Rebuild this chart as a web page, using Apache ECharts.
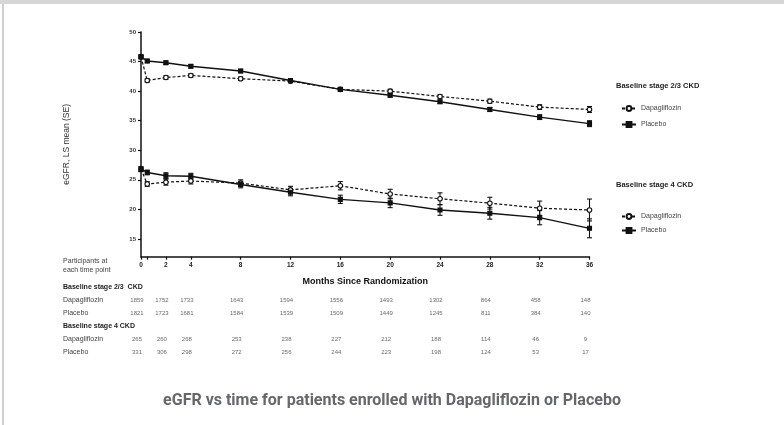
<!DOCTYPE html>
<html><head><meta charset="utf-8">
<script src="https://cdn.jsdelivr.net/npm/echarts@6/dist/echarts.min.js"></script>
<style>html,body{margin:0;padding:0;background:#fff}#c{width:784px;height:425px}</style>
</head><body><div id="c"></div>
<script>
// ---- data ----
const months = [0, 0.5, 2, 4, 8, 12, 16, 20, 24, 28, 32, 36];
const tickMonths = [0, 2, 4, 8, 12, 16, 20, 24, 28, 32, 36];
const yTicks = [15, 20, 25, 30, 35, 40, 45, 50];

const dapa23Mean = [45.8, 41.8, 42.3, 42.65, 42.1, 41.7, 40.3, 40.0, 39.1, 38.3, 37.3, 36.9];
const dapa23SE   = [0.3, 0.3, 0.3, 0.3, 0.3, 0.3, 0.3, 0.3, 0.3, 0.35, 0.4, 0.5];
const plac23Mean = [45.8, 45.1, 44.8, 44.2, 43.4, 41.8, 40.3, 39.3, 38.2, 36.9, 35.6, 34.5];
const plac23SE   = [0.3, 0.3, 0.3, 0.3, 0.3, 0.3, 0.3, 0.3, 0.3, 0.35, 0.4, 0.5];
const dapa4Mean  = [26.8, 24.3, 24.6, 24.8, 24.45, 23.3, 24.0, 22.6, 21.8, 21.05, 20.2, 19.9];
const dapa4SE    = [0.4, 0.4, 0.5, 0.5, 0.55, 0.6, 0.7, 0.8, 1.0, 1.0, 1.2, 1.85];
const plac4Mean  = [26.8, 26.25, 25.7, 25.6, 24.2, 22.9, 21.7, 21.1, 19.9, 19.35, 18.6, 16.8];
const plac4SE    = [0.4, 0.4, 0.5, 0.5, 0.55, 0.6, 0.7, 0.8, 0.9, 1.0, 1.2, 1.6];

const tableRows = ['Baseline stage 2/3  CKD', 'Dapagliflozin', 'Placebo', 'Baseline stage 4 CKD', 'Dapagliflozin', 'Placebo'];
const nDapa23 = [1859, 1752, 1733, 1643, 1594, 1556, 1493, 1302, 864, 458, 148];
const nPlac23 = [1821, 1723, 1681, 1584, 1539, 1509, 1449, 1245, 811, 384, 140];
const nDapa4  = [265, 260, 268, 253, 238, 227, 212, 188, 114, 46, 9];
const nPlac4  = [331, 306, 298, 272, 256, 244, 223, 198, 124, 53, 17];

// ---- build ----
const FF = 'Liberation Sans, Arial, sans-serif';
function pts(m){ return months.map((x,i)=>[x,m[i]]); }
function errs(m,s){ return months.map((x,i)=>[x,m[i]-s[i],m[i]+s[i]]); }
function errSeries(m,s){
  return {type:'custom', xAxisIndex:0, yAxisIndex:0, silent:true, z:1,
    data: errs(m,s),
    renderItem:function(params,api){
      const lo=api.coord([api.value(0),api.value(1)]);
      const hi=api.coord([api.value(0),api.value(2)]);
      const w=2.5, st={stroke:'#111',lineWidth:1.1};
      return {type:'group',children:[
        {type:'line',shape:{x1:lo[0],y1:lo[1],x2:hi[0],y2:hi[1]},style:st},
        {type:'line',shape:{x1:lo[0]-w,y1:lo[1],x2:lo[0]+w,y2:lo[1]},style:st},
        {type:'line',shape:{x1:hi[0]-w,y1:hi[1],x2:hi[0]+w,y2:hi[1]},style:st}
      ]};
    }};
}
function lineS(name,m,dashed){
  return {name:name, type:'line', xAxisIndex:0, yAxisIndex:0, data:pts(m), z:3,
    symbol: dashed?'circle':'rect', symbolSize: dashed?4.5:4,
    lineStyle:{color:'#111', width: dashed?1.2:1.4, type: dashed?[3,2]:'solid'},
    itemStyle:{color: dashed?'#fff':'#111', borderColor:'#111', borderWidth:1.1},
    emphasis:{disabled:true}};
}
const tableData = [];
[nDapa23,nPlac23,nDapa4,nPlac4].forEach((arr,k)=>{
  const row=[1,2,4,5][k];
  arr.forEach((v,i)=>tableData.push([tickMonths[i], row, v]));
});

const chart = echarts.init(document.getElementById('c'), null, {renderer:'canvas'});
chart.setOption({
  backgroundColor:'#fff',
  animation:false,
  title:{text:'eGFR vs time for patients enrolled with Dapagliflozin or Placebo', left:'center', top:388,
    textStyle:{fontFamily:'Roboto, sans-serif', fontWeight:'bold', fontSize:16, color:'#66676b'}},
  graphic:[
    {type:'rect', shape:{x:0,y:0,width:784,height:4}, style:{fill:'#d6d6d6'}},
    {type:'rect', shape:{x:2,y:4,width:2,height:421}, style:{fill:'#cfcfcf'}},
    {type:'text', left:63, top:257, style:{text:'Participants at\neach time point', fontFamily:FF, fontSize:7, lineHeight:9, fill:'#444'}},
    {type:'text', left:616, top:82, style:{text:'Baseline stage 2/3 CKD', fontFamily:FF, fontSize:7.5, fontWeight:'bold', fill:'#222'}},
    {type:'text', left:616, top:181, style:{text:'Baseline stage 4 CKD', fontFamily:FF, fontSize:7.5, fontWeight:'bold', fill:'#222'}}
  ],
  legend:[
    {data:['Dapagliflozin','Placebo'], orient:'vertical', left:616, top:100, itemWidth:14, itemHeight:6, itemGap:9,
      textStyle:{fontFamily:FF, fontSize:7, color:'#444'}, selectedMode:false},
    {data:['Dapagliflozin ','Placebo '], orient:'vertical', left:616, top:208, itemWidth:14, itemHeight:6, itemGap:7,
      textStyle:{fontFamily:FF, fontSize:7, color:'#444'}, selectedMode:false}
  ],
  grid:[
    {left:141, right:194.5, top:32, bottom:168.3},
    {left:141, right:194.5, top:287, bottom:73}
  ],
  xAxis:[
    {type:'value', gridIndex:0, min:0, max:36,
      name:'Months Since Randomization', nameLocation:'middle', nameGap:20,
      nameTextStyle:{fontFamily:FF, fontWeight:'bold', fontSize:9, color:'#111'},
      axisLine:{lineStyle:{color:'#111', width:1.5}},
      axisTick:{length:3, lineStyle:{color:'#111', width:1.2}, customValues:[0,0.5,2,4,8,12,16,20,24,28,32,36]},
      axisLabel:{customValues:tickMonths, fontFamily:FF, fontSize:6.5, fontWeight:'bold', color:'#222', margin:5},
      splitLine:{show:false}},
    {type:'value', gridIndex:1, min:0, max:36, show:false}
  ],
  yAxis:[
    {type:'value', gridIndex:0, min:12, max:50,
      name:'eGFR, LS mean (SE)', nameLocation:'middle', nameGap:70, nameRotate:90,
      nameTextStyle:{fontFamily:FF, fontSize:8.5, color:'#333'},
      axisLine:{show:true, lineStyle:{color:'#111', width:1.5}},
      axisTick:{show:true, length:3, lineStyle:{color:'#111', width:1.2}, customValues:yTicks},
      axisLabel:{customValues:yTicks, fontFamily:FF, fontSize:6, fontWeight:'bold', color:'#333', margin:5},
      splitLine:{show:false}},
    {type:'category', gridIndex:1, data:tableRows, inverse:true, boundaryGap:false,
      axisLine:{show:false}, axisTick:{show:false},
      axisLabel:{align:'left', margin:78, fontFamily:FF, fontSize:7, color:'#444',
        formatter:function(v){ return v.indexOf('Baseline')===0 ? '{b|'+v+'}' : v; },
        rich:{b:{fontWeight:'bold', color:'#222', fontSize:7, fontFamily:FF}}}}
  ],
  series:[
    errSeries(dapa23Mean,dapa23SE), errSeries(plac23Mean,plac23SE),
    errSeries(dapa4Mean,dapa4SE), errSeries(plac4Mean,plac4SE),
    lineS('Dapagliflozin',dapa23Mean,true), lineS('Placebo',plac23Mean,false),
    lineS('Dapagliflozin ',dapa4Mean,true), lineS('Placebo ',plac4Mean,false),
    {type:'scatter', xAxisIndex:1, yAxisIndex:1, data:tableData, symbolSize:0, silent:true,
      label:{show:true, position:'inside', offset:[-4,0], formatter:function(p){return String(p.value[2]);},
        fontFamily:FF, fontSize:6, color:'#444'}}
  ]
});
</script></body></html>
